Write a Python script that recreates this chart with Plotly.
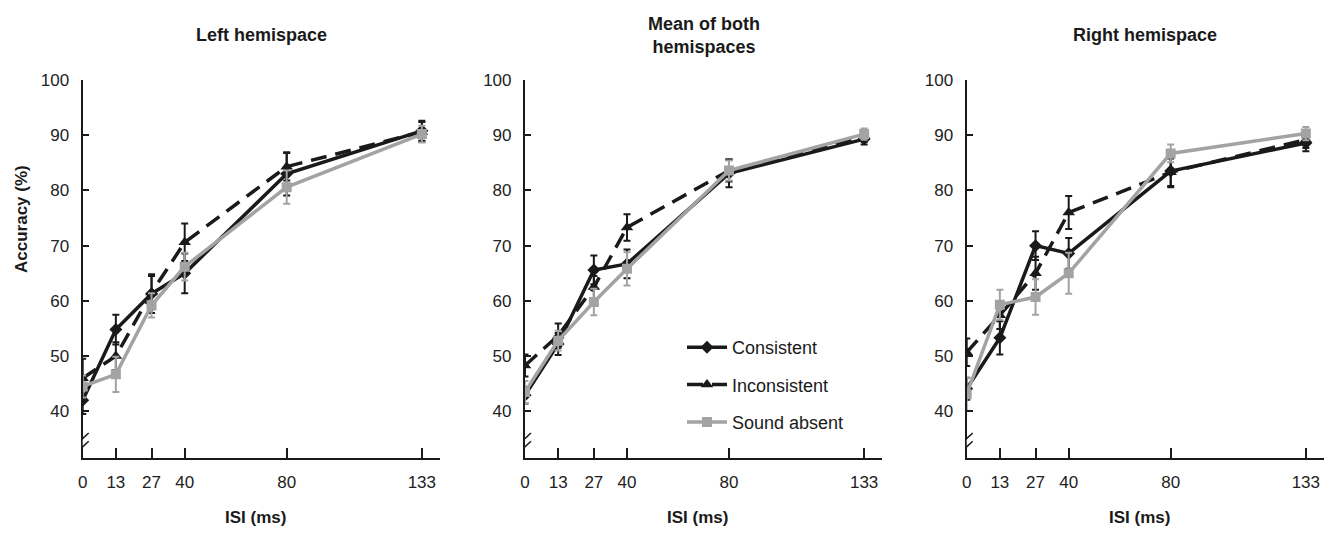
import plotly.graph_objects as go

# the page adds an 8px body margin; the figure is sized to fit inside the 1333x534 window
OFF = 8
W, H = 1333 - 2 * OFF, 534 - 2 * OFF

isi = [0, 13, 27, 40, 80, 133]
x_ticks = [0, 13, 27, 40, 80, 133]
y_ticks = [40, 50, 60, 70, 80, 90, 100]

panel_titles = ["Left hemispace", "Mean of both<br>hemispaces", "Right hemispace"]
series_names = ["Consistent", "Inconsistent", "Sound absent"]

# Left hemispace
left_consistent = [42.0, 54.8, 61.3, 65.0, 83.0, 90.8]
left_consistent_err = [2.5, 2.7, 3.5, 3.6, 3.9, 1.8]
left_inconsistent = [46.0, 50.0, 61.5, 70.6, 84.3, 90.6]
left_inconsistent_err = [3.5, 2.5, 3.0, 3.4, 2.5, 1.8]
left_absent = [44.5, 46.7, 59.2, 66.2, 80.6, 90.2]
left_absent_err = [2.0, 3.2, 2.2, 2.5, 3.0, 1.5]

# Mean of both hemispaces
mean_consistent = [42.9, 52.2, 65.6, 66.7, 83.1, 89.3]
mean_consistent_err = [1.5, 2.0, 2.6, 2.6, 2.5, 1.0]
mean_inconsistent = [48.3, 53.7, 62.5, 73.3, 83.6, 89.8]
mean_inconsistent_err = [2.0, 2.2, 2.0, 2.4, 2.0, 1.0]
mean_absent = [43.5, 52.8, 59.8, 65.8, 83.6, 90.2]
mean_absent_err = [2.0, 1.8, 2.4, 3.0, 1.8, 1.0]

# Right hemispace
right_consistent = [44.1, 53.3, 70.0, 68.6, 83.5, 88.6]
right_consistent_err = [2.0, 3.0, 2.6, 2.8, 2.9, 1.5]
right_inconsistent = [50.7, 57.4, 65.0, 76.0, 83.3, 89.2]
right_inconsistent_err = [2.5, 2.5, 3.0, 3.0, 2.5, 1.5]
right_absent = [43.1, 59.3, 60.7, 65.0, 86.7, 90.3]
right_absent_err = [3.0, 2.7, 3.2, 3.7, 1.6, 1.2]

panels = [
    (left_consistent, left_consistent_err, left_inconsistent, left_inconsistent_err, left_absent, left_absent_err),
    (mean_consistent, mean_consistent_err, mean_inconsistent, mean_inconsistent_err, mean_absent, mean_absent_err),
    (right_consistent, right_consistent_err, right_inconsistent, right_inconsistent_err, right_absent, right_absent_err),
]

BLACK = "#1a1a1a"
GRAY = "#a3a3a3"
FONT = "Liberation Sans, Arial, sans-serif"


def px_x(p):
    return (p - OFF) / W


def px_y(p):
    return 1 - (p - OFF) / H


# domains in window pixels
x_px = [(82.7, 439.7), (525.0, 882.0), (966.7, 1323.7)]
y_top, y_bot = 80.0, 457.7
ydom = [px_y(y_bot), px_y(y_top)]

styles = [
    dict(color=BLACK, dash="solid", symbol="diamond", size=10),
    dict(color=BLACK, dash="16px,9px", symbol="triangle-up", size=11),
    dict(color=GRAY, dash="solid", symbol="square", size=10),
]

fig = go.Figure()
layout = {}
shapes = []
annotations = []

for i, pdata in enumerate(panels):
    xa = "x" if i == 0 else f"x{i+1}"
    ya = "y" if i == 0 else f"y{i+1}"
    for j in range(3):
        vals = pdata[2 * j]
        errs = pdata[2 * j + 1]
        st = styles[j]
        fig.add_trace(go.Scatter(
            x=isi, y=vals, xaxis=xa, yaxis=ya,
            mode="lines+markers",
            name=series_names[j],
            legendgroup=series_names[j],
            showlegend=(i == 1),
            line=dict(color=st["color"], width=3.5, dash=st["dash"]),
            marker=dict(symbol=st["symbol"], size=st["size"], color=st["color"]),
            error_y=dict(type="data", array=errs, visible=True, color=st["color"],
                         thickness=2, width=3.5),
        ))
    xd = [px_x(x_px[i][0]), px_x(x_px[i][1])]
    xkey = "xaxis" if i == 0 else f"xaxis{i+1}"
    ykey = "yaxis" if i == 0 else f"yaxis{i+1}"
    layout[xkey] = dict(
        domain=xd, anchor=ya, range=[0, 140], tickvals=x_ticks, automargin=False,
        showline=True, linecolor=BLACK, linewidth=2.2, ticks="inside", ticklen=10,
        tickwidth=1.5, tickcolor=BLACK, showgrid=False, zeroline=False,
        tickfont=dict(family=FONT, size=17, color="#222"), ticklabelstandoff=8,
        fixedrange=True,
    )
    layout[ykey] = dict(
        domain=ydom, anchor=xa, range=[31.6, 100], tickvals=y_ticks, automargin=False,
        showline=True, linecolor=BLACK, linewidth=2.2, ticks="inside", ticklen=6,
        tickwidth=1.5, tickcolor=BLACK, showgrid=False, zeroline=False,
        tickfont=dict(family=FONT, size=17, color="#222"), ticklabelstandoff=8,
        fixedrange=True,
    )
    # axis break
    shapes.append(dict(type="line", xref=xa, yref=ya, xsizemode="pixel", ysizemode="pixel",
                       xanchor=0, yanchor=34.3, x0=0, x1=0, y0=-3, y1=3,
                       line=dict(color="white", width=4)))
    for yb in (33.5, 35.0):
        shapes.append(dict(type="line", xref=xa, yref=ya, xsizemode="pixel", ysizemode="pixel",
                           xanchor=0, yanchor=yb, x0=-7, x1=6, y0=-6, y1=6,
                           line=dict(color=BLACK, width=1.5)))
    cx = (x_px[i][0] + x_px[i][1]) / 2
    annotations.append(dict(text=f"<b>{panel_titles[i]}</b>", x=px_x(cx), y=px_y(35),
                            xref="paper", yref="paper", xanchor="center", yanchor="middle",
                            showarrow=False, font=dict(family=FONT, size=18, color="#1a1a1a")))
    annotations.append(dict(text="<b>ISI (ms)</b>", x=px_x(cx - 6), y=px_y(517),
                            xref="paper", yref="paper", xanchor="center", yanchor="middle",
                            showarrow=False, font=dict(family=FONT, size=17, color="#1a1a1a")))

annotations.append(dict(text="<b>Accuracy (%)</b>", x=px_x(22), y=px_y(219), textangle=-90,
                        xref="paper", yref="paper", xanchor="center", yanchor="middle",
                        showarrow=False, font=dict(family=FONT, size=17, color="#1a1a1a")))

fig.update_layout(
    width=W, height=H,
    margin=dict(l=0, r=0, t=0, b=0, autoexpand=False),
    paper_bgcolor="white", plot_bgcolor="white",
    shapes=shapes, annotations=annotations,
    legend=dict(x=px_x(682), y=px_y(329), xanchor="left", yanchor="top",
                bgcolor="rgba(0,0,0,0)", font=dict(family=FONT, size=18, color="#1a1a1a"),
                tracegroupgap=11, itemwidth=40),
    **layout,
)

fig.write_html("out.html")
